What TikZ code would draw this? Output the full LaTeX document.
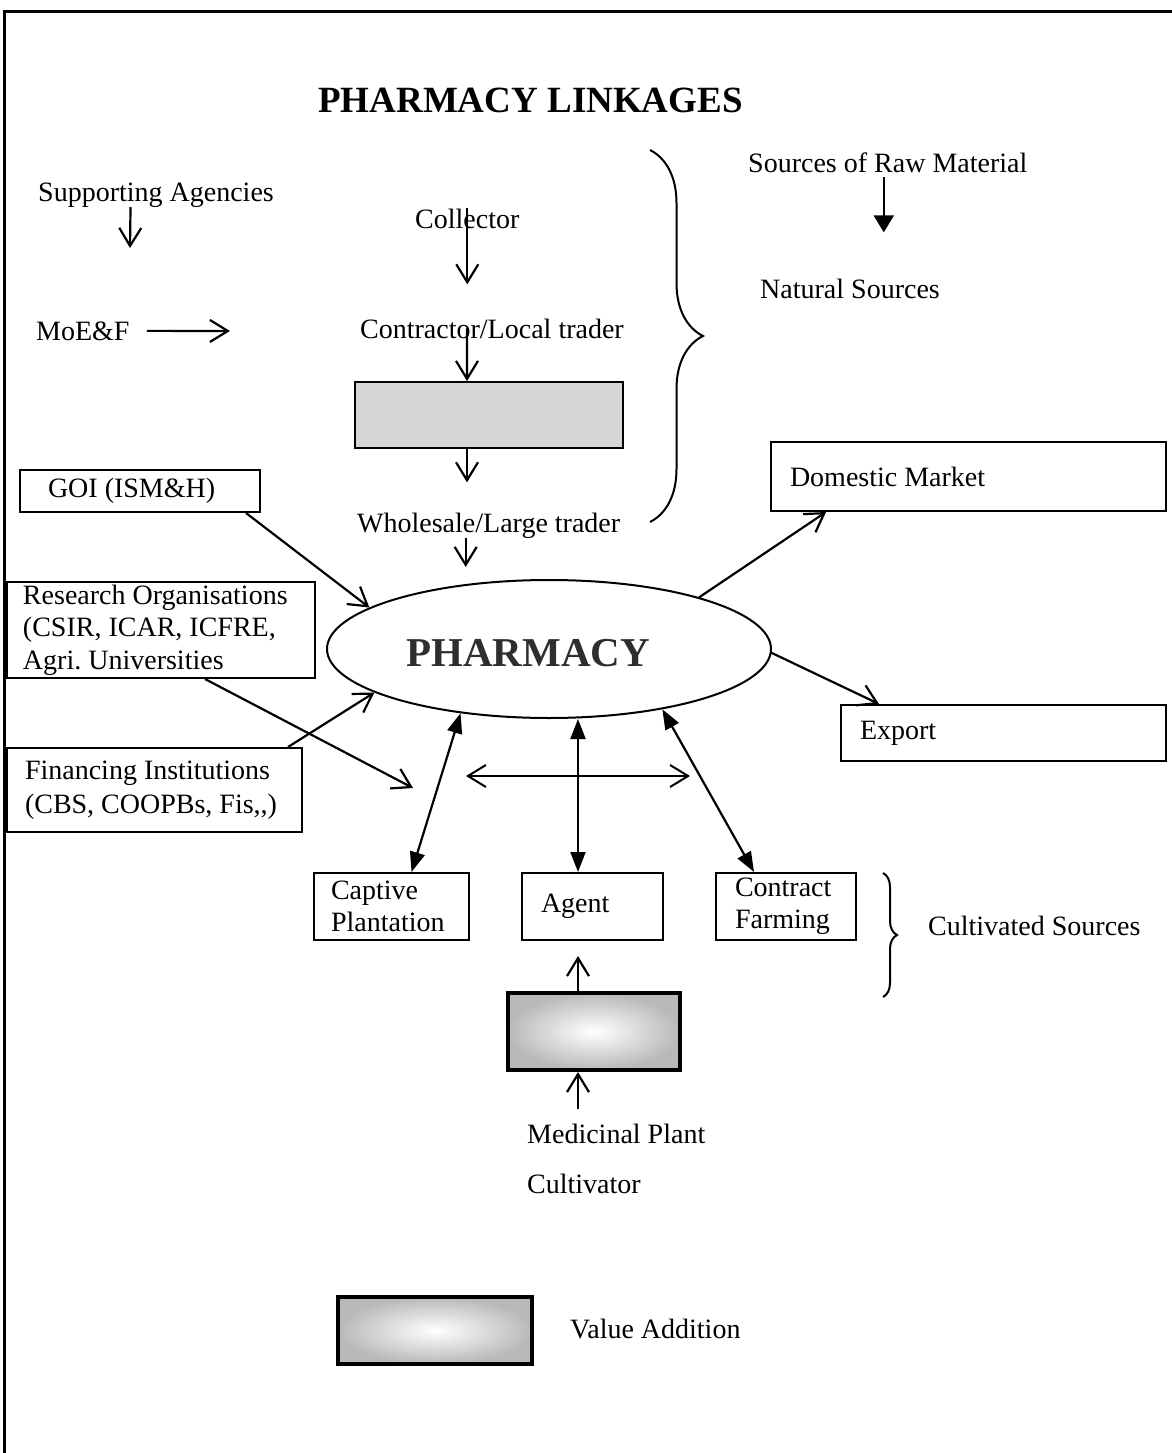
\documentclass[tikz,border=0pt]{standalone}
\usepackage{fontspec}
\setmainfont{Liberation Serif}
\usetikzlibrary{arrows.meta,shapes.geometric,decorations.pathreplacing}
\frenchspacing

\begin{document}
\begin{tikzpicture}[x=1pt,y=-1pt,
  every node/.style={inner sep=0pt, font=\fontsize{28pt}{32.5pt}\selectfont},
  txt/.style={anchor=base west},
  box/.style={draw, line width=2pt, align=flush left, inner ysep=0pt},
  graybox/.style={draw, line width=2pt, fill=gray!32},
  keybox/.style={draw, line width=4pt, shading=radial, inner color=white, outer color=gray!55},
  link/.style={line width=2.2pt, -{Straight Barb[length=18pt,width=22pt]}},
  both/.style={line width=2.2pt, {Triangle[length=20pt,width=15pt]}-{Triangle[length=20pt,width=15pt]}},
  curly/.style={line width=2pt, decorate},
]
\useasboundingbox (0,0) rectangle (1172,1453);

% page frame
\draw[line width=3pt] (4,1453) -- (4,12) -- (1172,12);

% title
\node[txt, font=\fontsize{37pt}{40pt}\selectfont\bfseries] (title) at (318,113) {PHARMACY LINKAGES};

% supporting agencies
\node[txt] (sup) at (38,201) {Supporting Agencies};
\coordinate (supend) at (130,248);
\draw[link] ([xshift=-25.5pt]sup.south) -- (supend);
\node[txt] (moe) at (36,340) {MoE\&F};
\coordinate (moeend) at (230,331);
\draw[link, shorten <=17pt] (moe.east) -- (moeend);

% natural sources chain
\node[txt] (col) at (415,228) {Collector};
\node[txt] (ctr) at (360,338) {Contractor/Local trader};
\node[graybox, minimum width=268pt, minimum height=66pt] (vb1) at (489,415) {};
\node[txt] (whl) at (357,532) {Wholesale/Large trader};
\draw[link, shorten >=34pt] (col.north) -- (col.north |- ctr.north);
\draw[link] ([xshift=-25pt]ctr.center) -- ([xshift=-22pt]vb1.north);
\draw[link, shorten >=30pt] ([xshift=-22pt]vb1.south) -- ([xshift=-22pt]vb1.south |- whl.north);

\coordinate (b1t) at (650,150);
\coordinate (b1b) at (650,522);
\draw[curly, decoration={brace, amplitude=53pt}] (b1t) -- (b1b);

\node[txt] (src) at (748,172) {Sources of Raw Material};
\node[txt] (nat) at (760,298) {Natural Sources};
\draw[line width=2.2pt, -{Triangle[length=17pt,width=20pt]}, shorten <=5pt, shorten >=46pt]
  ([xshift=-4pt]src.south) -- ([xshift=-4pt]src.south |- nat.north);

% pharmacy
\node[draw, ellipse, line width=2pt, minimum width=444pt, minimum height=138pt] (pharm) at (549,649) {};
\node[txt, font=\fontsize{41pt}{45pt}\selectfont\bfseries, text=black!82] (pharmtxt) at (406,666) {PHARMACY};
\draw[link, shorten >=12pt] ([xshift=-23pt]whl.south) -- ([xshift=-23pt]whl.south |- pharm.north);

% agencies on the left
\node[box, text width=184pt, inner xsep=28pt, minimum height=42pt] (goi) at (140,491) {GOI (ISM\&H)};
\node[box, text width=276pt, inner xsep=16pt, minimum height=96pt] (res) at (161,630)
  {Research Organisations\\(CSIR, ICAR, ICFRE,\\Agri. Universities};
\node[box, text width=259pt, inner xsep=18pt, minimum height=84pt, font=\fontsize{28pt}{34pt}\selectfont] (fin) at (154.5,790)
  {Financing Institutions\\(CBS, COOPBs, Fis,{},)};
\coordinate (restip) at (413,788);
\draw[link] ([xshift=-15pt]goi.south east) -- (pharm.167);
\draw[link] ([xshift=44pt]res.south) -- (restip);
\draw[link] ([xshift=-15pt]fin.north east) -- (pharm.194);

% markets
\node[box, text width=357pt, inner xsep=19pt, minimum height=69pt] (dom) at (968.5,476.5) {Domestic Market};
\node[box, text width=287pt, inner xsep=19pt, minimum height=56pt] (exp) at (1003.5,733) {Export};
\draw[link] (pharm.19) -- ([xshift=56pt]dom.south west);
\draw[link] (pharm.-1) -- ([xshift=39pt]exp.north west);

% cultivated sources
\node[box, text width=121pt, inner xsep=17pt, minimum height=67pt, font=\fontsize{28pt}{32pt}\selectfont] (cap) at (391.5,906.5) {Captive\\Plantation};
\node[box, text width=103pt, inner xsep=19pt, minimum height=67pt] (agt) at (592.5,906.5) {Agent};
\node[box, text width=102pt, inner xsep=19pt, minimum height=67pt, font=\fontsize{28pt}{32pt}\selectfont] (con) at (786,906.5) {Contract\\Farming};
\draw[both] (pharm.216) -- ([xshift=20pt]cap.north);
\draw[both] ([xshift=-14.5pt]agt.north |- pharm.south) -- ([xshift=-14.5pt]agt.north);
\draw[both] (pharm.332) -- ([xshift=-32pt]con.north);

\coordinate (hl) at (466,776);
\coordinate (hr) at (690,776);
\draw[line width=2pt, {Straight Barb[length=18pt,width=22pt]}-{Straight Barb[length=18pt,width=22pt]}] (hl) -- (hr);

\coordinate (b2t) at (883,873);
\coordinate (b2b) at (883,997);
\draw[curly, decoration={brace, amplitude=14pt}] (b2t) -- (b2b);
\node[txt] (cult) at (928,935) {Cultivated Sources};

\node[keybox, minimum width=172pt, minimum height=77pt] (vb2) at (594,1031.5) {};
\node[txt] (med) at (527,1143) {Medicinal Plant};
\node[txt] (cul) at (527,1193) {Cultivator};
\draw[link] ([xshift=-16pt]vb2.north) -- ([xshift=-14.5pt,yshift=-15pt]agt.south);
\draw[link, shorten <=14pt] ([xshift=-16pt]vb2.south |- med.north) -- ([xshift=-16pt]vb2.south);

% legend
\node[keybox, minimum width=194pt, minimum height=67pt] (vbkey) at (435,1330.5) {};
\node[txt] (valtxt) at (570,1338) {Value Addition};
\end{tikzpicture}
\end{document}
